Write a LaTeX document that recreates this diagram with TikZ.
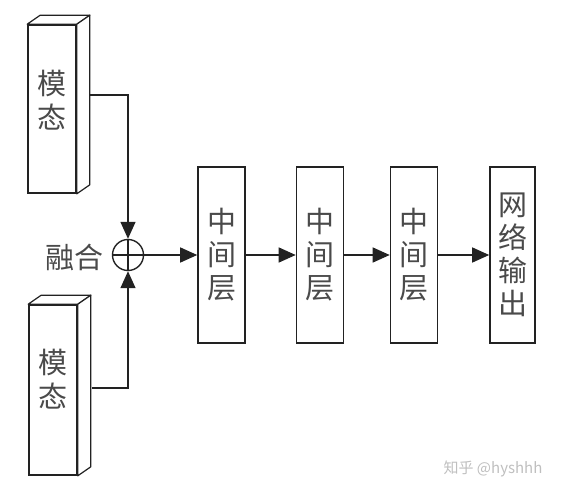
\documentclass[tikz,border=0pt]{standalone}
\usepackage{fontspec}
\newfontfamily\cjk{Noto Sans CJK SC}
\usetikzlibrary{arrows.meta,calc}
\definecolor{linecol}{HTML}{222222}
\definecolor{txtcol}{HTML}{4A4A4A}
\begin{document}
\begin{tikzpicture}[x=1pt,y=-1pt,
  box/.style={draw=linecol, line width=1.6pt, minimum width=47pt, minimum height=176pt,
    inner sep=0pt, text=txtcol, font=\cjk\fontsize{29}{33}\selectfont, align=center},
  front/.style={draw=linecol, line width=1.6pt, minimum width=48pt, minimum height=168pt, inner sep=0pt},
  face/.style={draw=linecol, line width=1.2pt, fill=white, line join=round},
  lbl/.style={text=txtcol, font=\cjk\fontsize{29}{34}\selectfont, align=center, inner sep=0pt},
  conn/.style={draw=linecol, line width=1.4pt},
  arr/.style={conn, -{Triangle[length=17pt,width=15pt]}}
]
\useasboundingbox (0,0) rectangle (565,495);
% modal box 1
\node[front] (m1) at (52,109) {};
\draw[face] (m1.north west) -- ++(13,-9) -- ($(m1.north east)+(13,-9)$) -- (m1.north east) -- cycle;
\draw[face] (m1.north east) -- ++(13,-9) -- ($(m1.south east)+(13,-9)$) -- (m1.south east) -- cycle;
\node[lbl] (t1) at (52,100) {模\\态};
% modal box 2
\node[front, minimum height=170pt] (m2) at (53,390) {};
\draw[face] (m2.north west) -- ++(13,-9) -- ($(m2.north east)+(13,-9)$) -- (m2.north east) -- cycle;
\draw[face] (m2.north east) -- ++(13,-9) -- ($(m2.south east)+(13,-9)$) -- (m2.south east) -- cycle;
\node[lbl] (t2) at (53,379) {模\\态};
% fusion
\node[draw=linecol, line width=1.4pt, circle, minimum size=31pt, inner sep=0pt] (f) at (128,255) {};
\draw[conn] (f.north) -- (f.south) (f.west) -- (f.east);
\node[lbl, anchor=east] (fl) at (104,257) {融合};
\coordinate (s1) at (89,95);
\coordinate (s2) at (92,388);
\draw[arr] (s1) -| (f.north);
\draw[arr] (s2) -| (f.south);
% layers
\node[box] (b1) at (221.5,255) {中\\间\\层};
\node[box] (b2) at (320,255) {中\\间\\层};
\node[box] (b3) at (414,255) {中\\间\\层};
\node[box, minimum width=45pt] (b4) at (512.5,255) {网\\络\\输\\出};
\draw[arr] (f.east) -- (b1.west);
\draw[arr] (b1.east) -- (b2.west);
\draw[arr] (b2.east) -- (b3.west);
\draw[arr] (b3.east) -- (b4.west);
% watermark
\node[text=black!25, font=\cjk\fontsize{15}{15}\selectfont, inner sep=0pt] (wm) at (493,469) {知乎 @hyshhh};
\end{tikzpicture}
\end{document}
